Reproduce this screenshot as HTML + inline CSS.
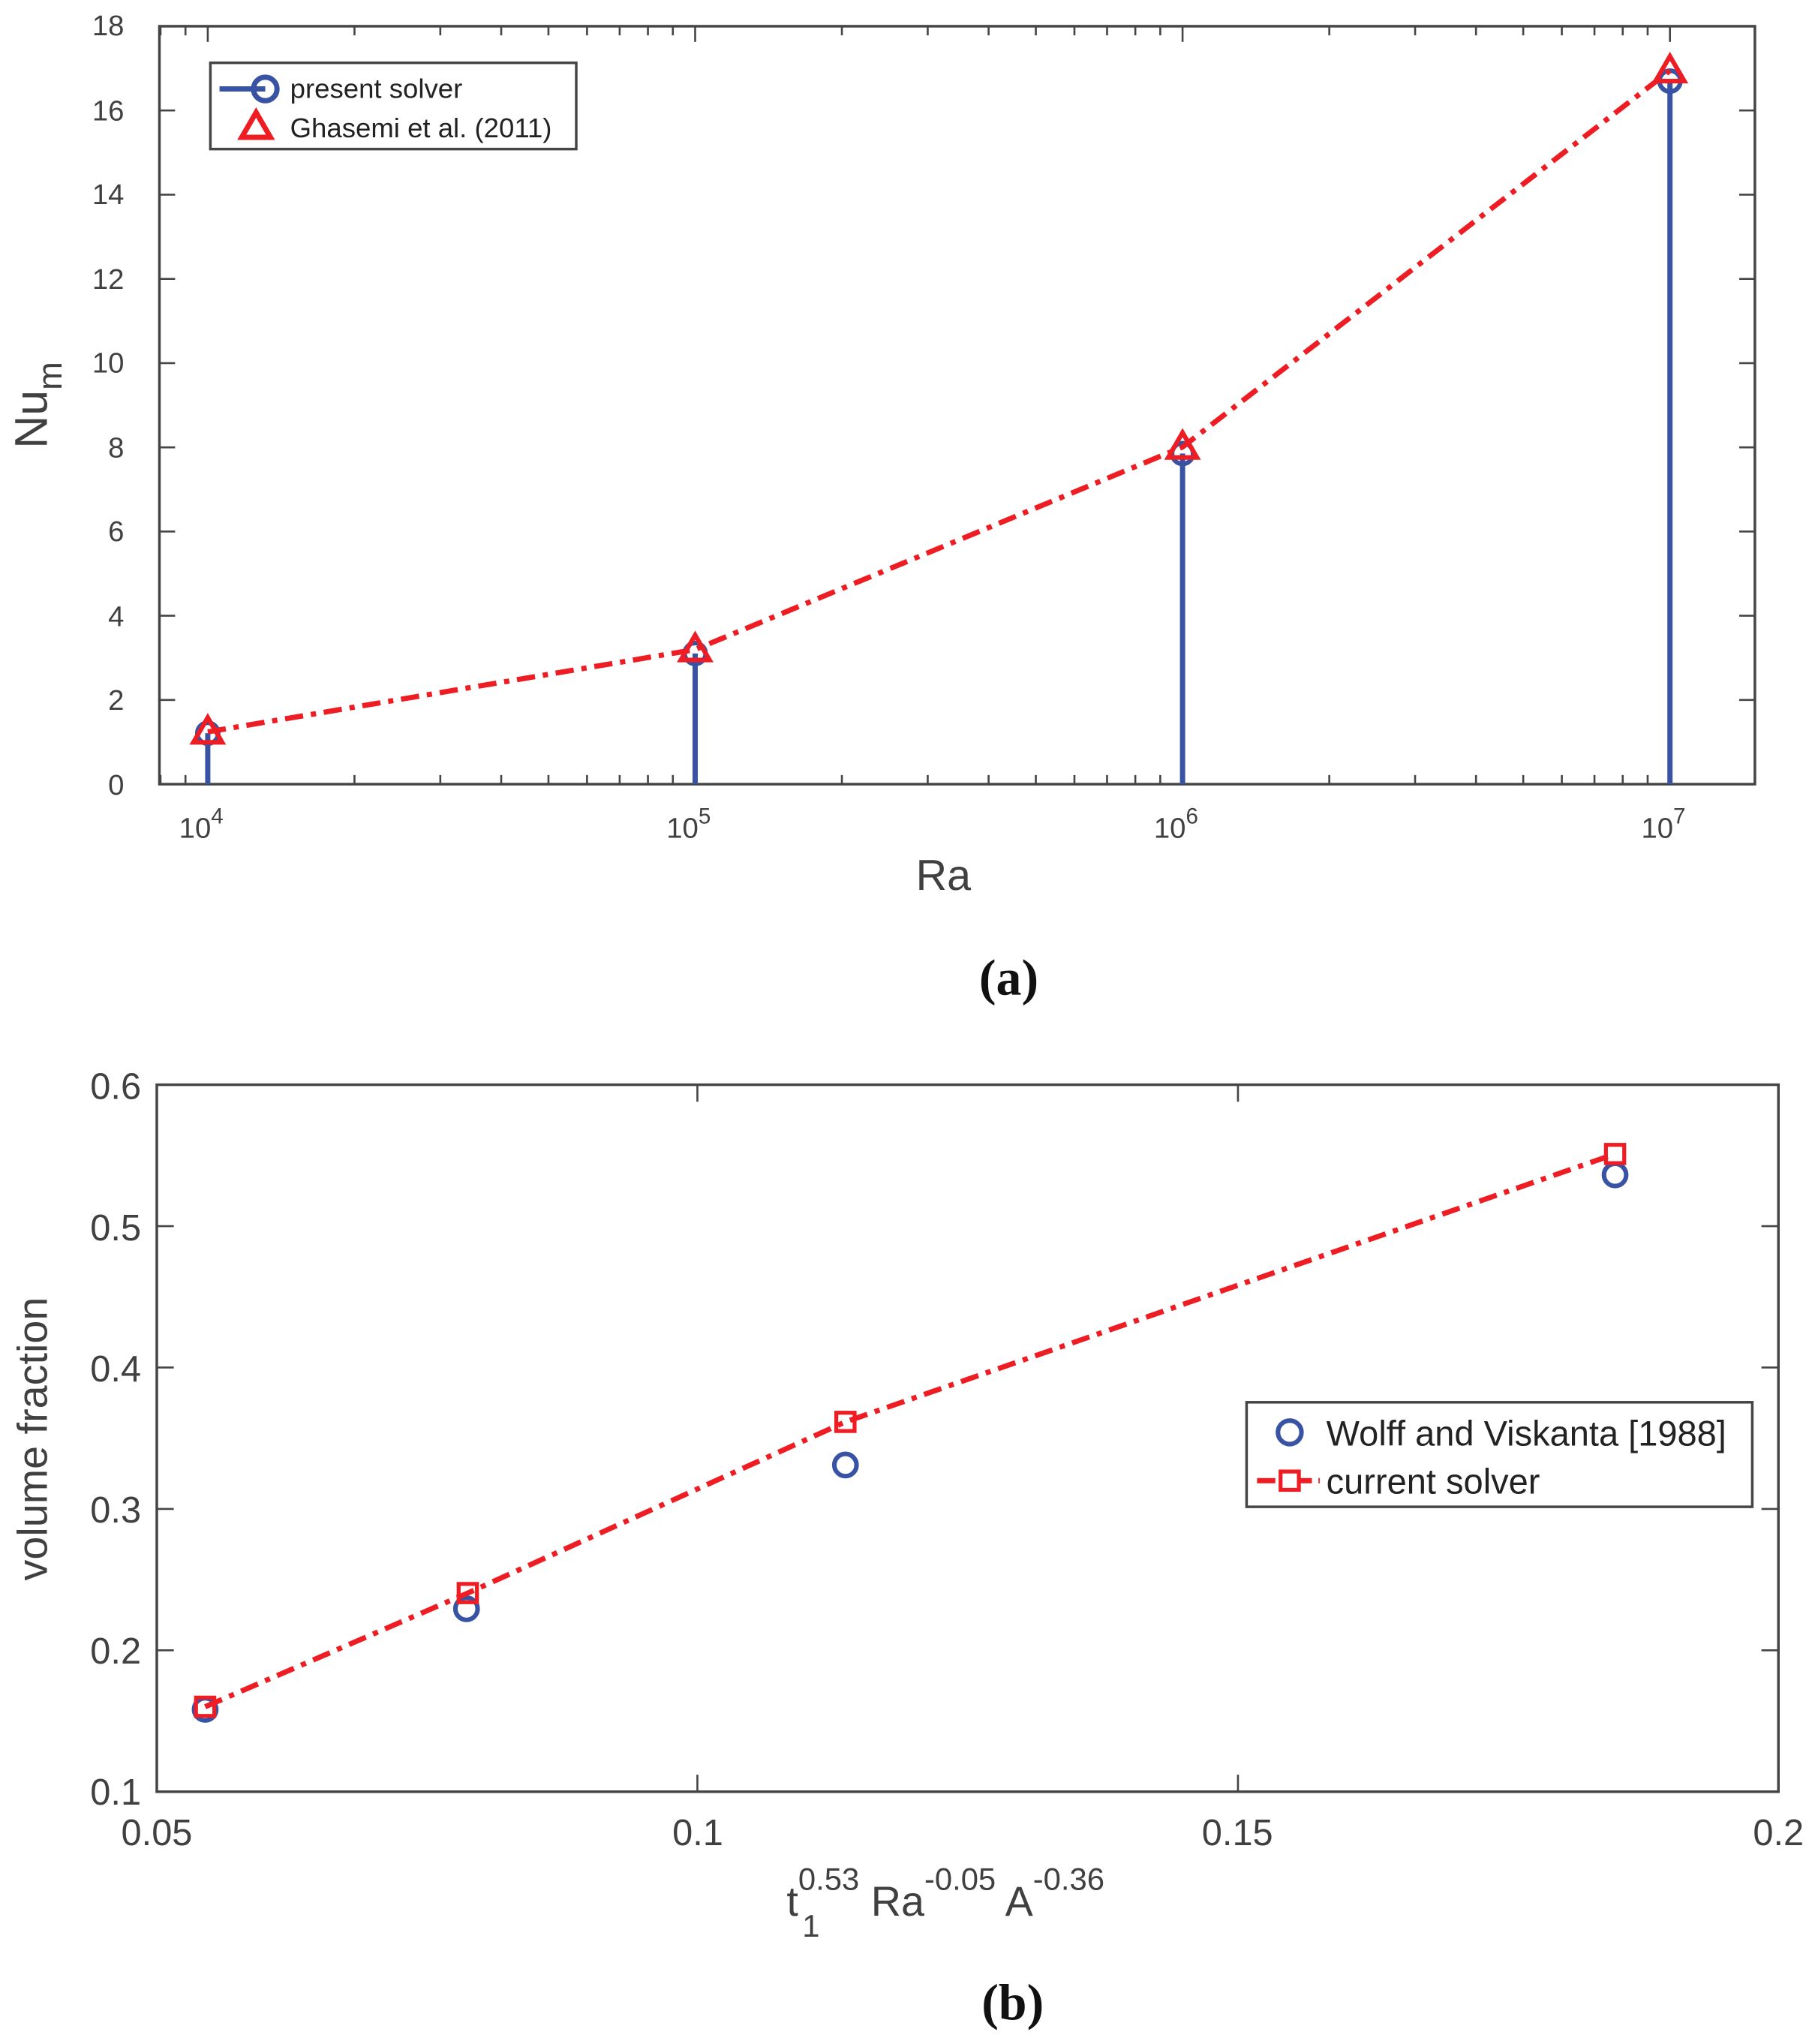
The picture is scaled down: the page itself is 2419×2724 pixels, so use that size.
<!DOCTYPE html>
<html><head><meta charset="utf-8"><style>
html,body{margin:0;padding:0;background:#fff}
svg{display:block}
text{font-family:"Liberation Sans",sans-serif;fill:#404040}
</style></head><body>
<svg width="2419" height="2724" viewBox="0 0 1389 1564" xmlns="http://www.w3.org/2000/svg">
<rect width="1389" height="1564" fill="#fff"/>
<!-- ===== Plot (a) ===== -->
<g stroke="#454545" stroke-width="2" fill="none">
<rect x="122" y="20" width="1221" height="580"/>
</g>
<g id="ticksA" stroke="#454545" stroke-width="1.5"></g>
<g font-size="22" text-anchor="end">
<text x="95" y="608">0</text><text x="95" y="543">2</text><text x="95" y="479">4</text>
<text x="95" y="414">6</text><text x="95" y="350">8</text><text x="95" y="285">10</text>
<text x="95" y="221">12</text><text x="95" y="156">14</text><text x="95" y="92">16</text><text x="95" y="27">18</text>
</g>
<g font-size="22" text-anchor="middle">
<text x="154" y="641">10<tspan font-size="17" dy="-11">4</tspan></text>
<text x="527" y="641">10<tspan font-size="17" dy="-11">5</tspan></text>
<text x="900" y="641">10<tspan font-size="17" dy="-11">6</tspan></text>
<text x="1273" y="641">10<tspan font-size="17" dy="-11">7</tspan></text>
</g>
<text x="722" y="681" font-size="33" text-anchor="middle">Ra</text>
<text transform="translate(36,310) rotate(-90)" font-size="35" text-anchor="middle">Nu<tspan font-size="26" dy="11">m</tspan></text>
<text x="772" y="761" font-size="39" font-weight="bold" text-anchor="middle" style="font-family:'Liberation Serif',serif;fill:#111">(a)</text>
<!-- stems -->
<g stroke="#3953a4" stroke-width="4">
<line x1="159" y1="600" x2="159" y2="561"/><line x1="532" y1="600" x2="532" y2="500"/>
<line x1="905" y1="600" x2="905" y2="347"/><line x1="1278" y1="600" x2="1278" y2="62"/>
</g>
<g stroke="#3953a4" stroke-width="3.5" fill="none">
<circle cx="159" cy="561" r="8"/><circle cx="532" cy="500" r="8"/><circle cx="905" cy="347" r="8"/><circle cx="1278" cy="62" r="8"/>
</g>
<polyline points="159,560 532,497 905,342 1278,54" fill="none" stroke="#ee1d23" stroke-width="4" stroke-dasharray="14 6 4 6"/>
<g stroke="#ee1d23" stroke-width="3.5" fill="none">
<polygon points="159,549 170,568 148,568"/><polygon points="532,486 543,505 521,505"/>
<polygon points="905,331 916,350 894,350"/><polygon points="1278,43 1289,62 1267,62"/>
</g>
<!-- legend a -->
<rect x="161" y="48" width="280" height="66" fill="#fff" stroke="#454545" stroke-width="2"/>
<line x1="168" y1="68" x2="203" y2="68" stroke="#3953a4" stroke-width="4"/>
<circle cx="203" cy="68" r="9" fill="none" stroke="#3953a4" stroke-width="4"/>
<polygon points="196,86 207,105 185,105" fill="none" stroke="#ee1d23" stroke-width="4"/>
<text x="222" y="75" font-size="21" style="fill:#222">present solver</text>
<text x="222" y="105" font-size="21" style="fill:#222">Ghasemi et al. (2011)</text>

<!-- ===== Plot (b) ===== -->
<rect x="120" y="830" width="1241" height="541" fill="none" stroke="#454545" stroke-width="2"/>
<g id="ticksB" stroke="#454545" stroke-width="1.5"></g>
<g font-size="28" text-anchor="end">
<text x="108" y="1381">0.1</text><text x="108" y="1273">0.2</text><text x="108" y="1165">0.3</text>
<text x="108" y="1057">0.4</text><text x="108" y="949">0.5</text><text x="108" y="841">0.6</text>
</g>
<g font-size="28" text-anchor="middle">
<text x="120" y="1412">0.05</text><text x="534" y="1412">0.1</text><text x="947" y="1412">0.15</text><text x="1361" y="1412">0.2</text>
</g>
<text x="602" y="1466" font-size="32">t<tspan font-size="24" dy="-20">0.53</tspan><tspan font-size="32" dy="20"> Ra</tspan><tspan font-size="24" dy="-20">-0.05</tspan><tspan font-size="32" dy="20"> A</tspan><tspan font-size="24" dy="-20">-0.36</tspan></text>
<text x="614" y="1482" font-size="24">1</text>
<text transform="translate(36,1101) rotate(-90)" font-size="32" text-anchor="middle">volume fraction</text>
<text x="775" y="1545" font-size="39" font-weight="bold" text-anchor="middle" style="font-family:'Liberation Serif',serif;fill:#111">(b)</text>
<g stroke="#3953a4" stroke-width="3.5" fill="none">
<circle cx="157" cy="1308" r="8.5"/><circle cx="357" cy="1231" r="8.5"/><circle cx="647" cy="1121" r="8.5"/><circle cx="1236" cy="899" r="8.5"/>
</g>
<polyline points="157,1306 358,1219 647,1088 1236,883" fill="none" stroke="#ee1d23" stroke-width="4" stroke-dasharray="14 6 4 6"/>
<g stroke="#ee1d23" stroke-width="3" fill="none">
<rect x="150" y="1299" width="14" height="14"/><rect x="351" y="1212" width="14" height="14"/>
<rect x="640" y="1081" width="14" height="14"/><rect x="1229" y="876" width="14" height="14"/>
</g>
<rect x="954" y="1073" width="387" height="80" fill="#fff" stroke="#454545" stroke-width="2"/>
<circle cx="987" cy="1096" r="9" fill="none" stroke="#3953a4" stroke-width="3.5"/>
<line x1="962" y1="1133" x2="1010" y2="1133" stroke="#ee1d23" stroke-width="4" stroke-dasharray="14 5 4 5"/>
<rect x="980" y="1126" width="14" height="14" fill="#fff" stroke="#ee1d23" stroke-width="3"/>
<text x="1015" y="1106" font-size="27" style="fill:#222">Wolff and Viskanta [1988]</text>
<text x="1015" y="1143" font-size="27" style="fill:#222">current solver</text>
</svg>
<script>
(function(){
var ns="http://www.w3.org/2000/svg";
function L(g,x1,y1,x2,y2){var l=document.createElementNS(ns,"line");l.setAttribute("x1",x1);l.setAttribute("y1",y1);l.setAttribute("x2",x2);l.setAttribute("y2",y2);g.appendChild(l);}
var a=document.getElementById("ticksA");
for(var i=0;i<=9;i++){var y=600-i*2*32.22;L(a,122,y,134,y);L(a,1343,y,1331,y);}
for(var d=3;d<=7;d++){for(var m=1;m<=9;m++){var x=159+(d-4+Math.log10(m))*373;if(x<122||x>1343)continue;var len=m==1?12:7;L(a,x,600,x,600-len);L(a,x,20,x,20+len);}}
var b=document.getElementById("ticksB");
for(var i=0;i<=5;i++){var y=1371-i*108.2;L(b,120,y,133,y);L(b,1361,y,1348,y);}
for(var i=0;i<=3;i++){var x=120+i*413.7;L(b,x,1371,x,1358);L(b,x,830,x,843);}
})();
</script>
</body></html>
